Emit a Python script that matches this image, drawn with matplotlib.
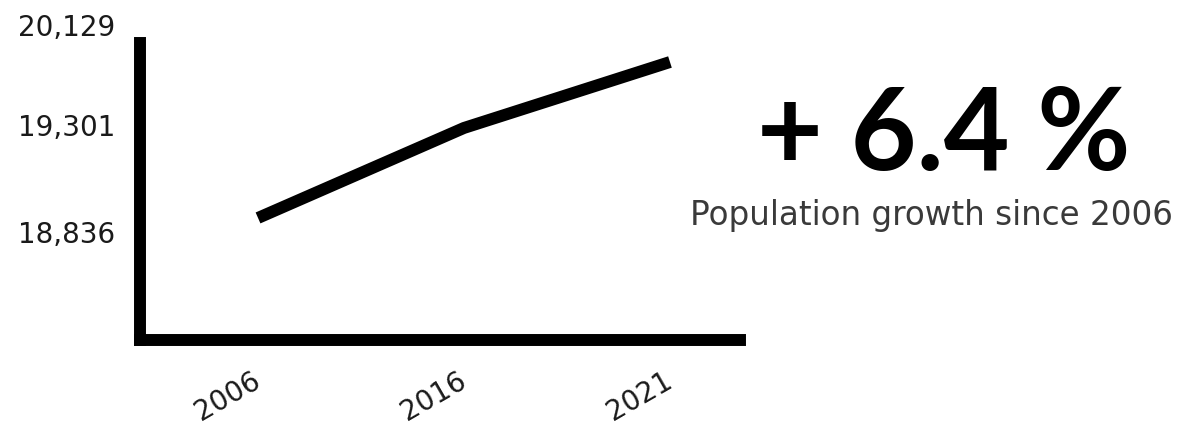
"""
Population growth infographic: thick black line over three census years,
with the headline growth figure set large on the right.
"""

import numpy as np
import matplotlib
matplotlib.use("Agg")
import matplotlib.pyplot as plt
from matplotlib.transforms import ScaledTranslation

# ── data ──────────────────────────────────────────────────────────────────
years = ["2006", "2016", "2021"]
population = [18836, 19301, 20129]
ytick_labels = ["18,836", "19,301", "20,129"]
headline = "+ 6.4 %"
subline = "Population growth since 2006"

# the printed axis is not linear: each labelled value gets its own height
scale_vals = [18205, 18836, 19301, 20129, 20368]
scale_pos = [0.0, 0.411, 0.714, 0.936, 1.0]
# the hand-set labels sit a little off their values (points, + is up)
ylabel_nudge = [-10, 2, 27]


def fwd(v):
    return np.interp(v, scale_vals, scale_pos)


def inv(p):
    return np.interp(p, scale_pos, scale_vals)


# ── figure ────────────────────────────────────────────────────────────────
W, H = 1189, 426
fig = plt.figure(figsize=(W / 100, H / 100), dpi=100)
ax = fig.add_axes([140 / W, (H - 340) / H, 600 / W, 297 / H])

x = np.arange(len(years))
ax.plot(x, population, color="black", lw=8.6,
        solid_capstyle="butt", solid_joinstyle="round")

ax.set_yscale("function", functions=(fwd, inv))
ax.set_ylim(scale_vals[0], scale_vals[-1])
ax.set_xlim(-0.573, 2.34)

ax.set_yticks(population)
ax.set_yticklabels(ytick_labels)
ax.set_xticks(x)
ax.set_xticklabels(years, rotation=30, ha="right", va="center",
                   rotation_mode="anchor")
ax.minorticks_off()

ax.tick_params(axis="y", length=0, pad=18, labelsize=20, labelcolor="#1a1a1a")
ax.tick_params(axis="x", length=0, pad=28, labelsize=20, labelcolor="#1a1a1a")

for lab, dy in zip(ax.get_yticklabels(), ylabel_nudge):
    lab.set_transform(lab.get_transform()
                      + ScaledTranslation(0, dy / 72, fig.dpi_scale_trans))

for side in ["top", "right"]:
    ax.spines[side].set_visible(False)
for side in ["left", "bottom"]:
    ax.spines[side].set_linewidth(8.6)
    ax.spines[side].set_color("black")
    ax.spines[side].set_capstyle("projecting")

# ── headline text ─────────────────────────────────────────────────────────
fig.text(944 / W, 1 - 170 / H, headline, ha="center", va="baseline",
         fontsize=82, fontweight="bold", family=["Lato", "DejaVu Sans"],
         color="black")
fig.text(931 / W, 1 - 225 / H, subline, ha="center", va="baseline",
         fontsize=23.5, color="#3a3a3a")

fig.savefig("out.png", dpi=100)
plt.close(fig)
